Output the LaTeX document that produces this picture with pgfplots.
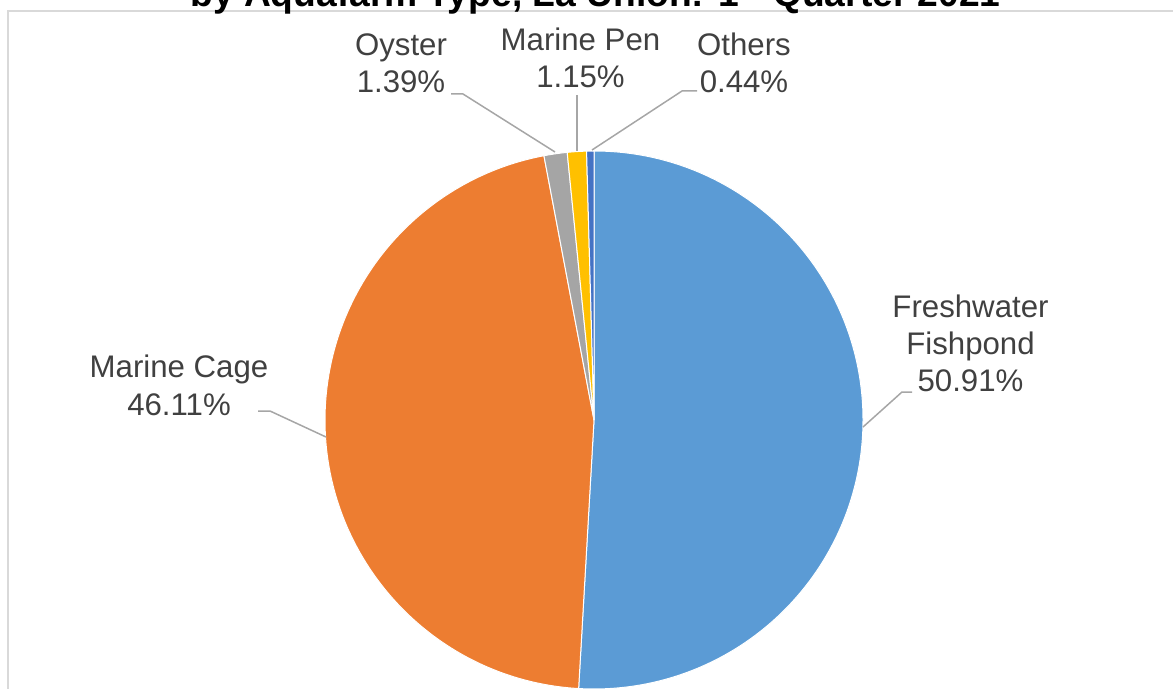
\documentclass[border=0pt]{standalone}
\usepackage{fontspec}
\setmainfont{Liberation Sans}
\usepackage{pgfplots}
\usepackage{pgfplotstable}
\pgfplotsset{compat=1.18}

\definecolor{fresh}{HTML}{5B9BD5}
\definecolor{cage}{HTML}{ED7D31}
\definecolor{oyster}{HTML}{A5A5A5}
\definecolor{pen}{HTML}{FFC000}
\definecolor{others}{HTML}{4472C4}
\definecolor{lbltext}{HTML}{404040}
\definecolor{leader}{HTML}{A6A6A6}
\definecolor{frame}{HTML}{D9D9D9}

% share of production, %
\pgfplotstableread{
value colour
50.91 fresh
46.11 cage
1.39  oyster
1.15  pen
0.44  others
}\piedata

\begin{document}
\begin{tikzpicture}[
    lbl/.style={font=\fontsize{15.6}{18}\selectfont, text=lbltext, anchor=base, inner sep=0pt},
  ]
\useasboundingbox (0,0) rectangle (586.5pt,344.5pt);
\clip (0,0) rectangle (586.5pt,344.5pt);
\begin{axis}[
    scale only axis,
    width=586.5pt, height=344.5pt,
    xmin=0, xmax=1173, ymin=0, ymax=689,
    y dir=reverse,
    hide axis, clip=false,
]
% chart frame
\draw[frame, line width=0.75pt] (axis cs:8,1000) -- (axis cs:8,11) -- (axis cs:1300,11);

% title (top is cut off in the reference)
\node[font=\fontsize{18.6}{22}\selectfont\bfseries, anchor=base, inner sep=0pt]
  at (axis cs:595.5,7) {by Aquafarm Type, La Union: 1\textsuperscript{st} Quarter 2021};

% slices, clockwise from 12 o'clock
\pgfplotstablegetrowsof{\piedata}
\pgfmathtruncatemacro\lastrow{\pgfplotsretval-1}
\xdef\angstart{90}
\pgfplotsforeachungrouped \i in {0,...,\lastrow}{
  \pgfplotstablegetelem{\i}{value}\of\piedata \let\myval\pgfplotsretval
  \pgfplotstablegetelem{\i}{colour}\of\piedata \let\mycol\pgfplotsretval
  \pgfmathsetmacro\angend{\angstart-3.6*\myval}
  \edef\temp{\noexpand\fill[\mycol, draw=white, line width=0.5pt]
    (axis cs:594,420) -- ++(\angstart:134.5pt)
    arc[start angle=\angstart, end angle=\angend, radius=134.5pt] -- cycle;}
  \temp
  \xdef\angstart{\angend}
}

% leader lines
\draw[leader, line width=0.75pt] (axis cs:912,392) -- (axis cs:902,392) -- (axis cs:863,427);
\draw[leader, line width=0.75pt] (axis cs:258,411) -- (axis cs:270,411) -- (axis cs:326,437);
\draw[leader, line width=0.75pt] (axis cs:451,94) -- (axis cs:463,94) -- (axis cs:555,152);
\draw[leader, line width=0.75pt] (axis cs:577,95) -- (axis cs:577,151);
\draw[leader, line width=0.75pt] (axis cs:697,91) -- (axis cs:682,91) -- (axis cs:592,150);

% data labels
\node[lbl] at (axis cs:970.5,317) {Freshwater};
\node[lbl] at (axis cs:970.5,354) {Fishpond};
\node[lbl] at (axis cs:970.5,391) {50.91\%};
\node[lbl] at (axis cs:179,377) {Marine Cage};
\node[lbl] at (axis cs:179,415) {46.11\%};
\node[lbl] at (axis cs:401,56) {Oyster};
\node[lbl] at (axis cs:401,93) {1.39\%};
\node[lbl] at (axis cs:580.5,51) {Marine Pen};
\node[lbl] at (axis cs:580.5,88) {1.15\%};
\node[lbl] at (axis cs:744,56) {Others};
\node[lbl] at (axis cs:744,93) {0.44\%};
\end{axis}
\end{tikzpicture}
\end{document}
